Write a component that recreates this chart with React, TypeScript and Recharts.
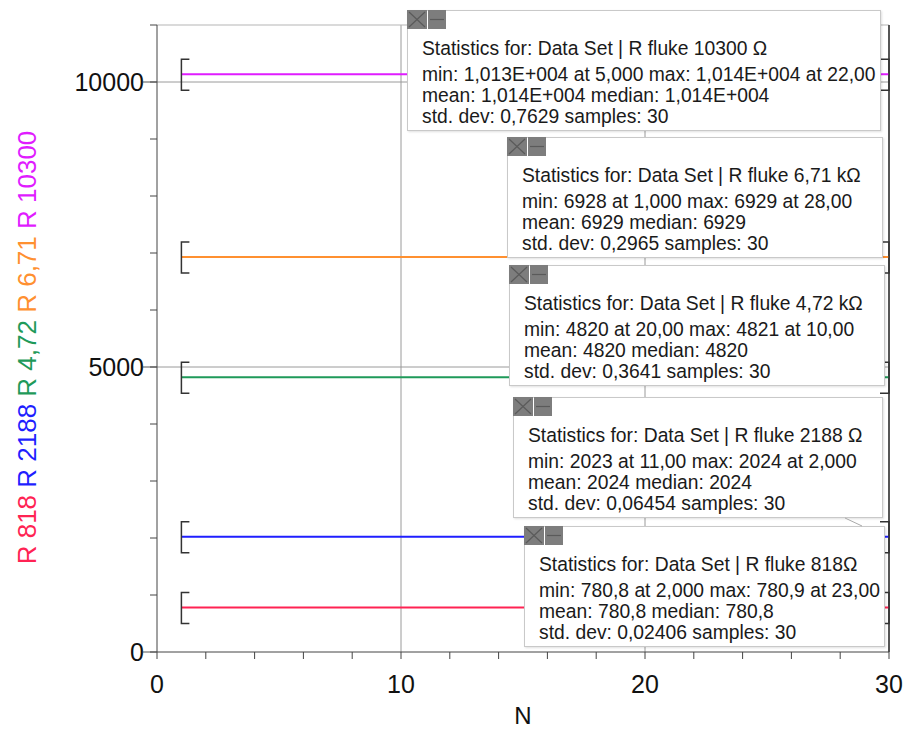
import React from 'react';
import { LineChart, Line, XAxis, YAxis, ReferenceLine } from 'recharts';

const samples = [1, 2, 3, 4, 5, 6, 7, 8, 9, 10, 11, 12, 13, 14, 15, 16, 17, 18, 19, 20, 21, 22, 23, 24, 25, 26, 27, 28, 29, 30];

const r818 = [780.82, 780.78, 780.81, 780.80, 780.83, 780.82, 780.81, 780.80, 780.84, 780.81, 780.82, 780.80, 780.83, 780.81, 780.82, 780.80, 780.81, 780.83, 780.82, 780.81, 780.80, 780.82, 780.87, 780.81, 780.82, 780.80, 780.83, 780.81, 780.82, 780.81];
const r2188 = [2023.6, 2023.7, 2023.6, 2023.55, 2023.6, 2023.55, 2023.6, 2023.6, 2023.55, 2023.6, 2023.45, 2023.6, 2023.55, 2023.6, 2023.6, 2023.55, 2023.6, 2023.6, 2023.55, 2023.6, 2023.6, 2023.55, 2023.6, 2023.6, 2023.55, 2023.6, 2023.6, 2023.55, 2023.6, 2023.6];
const r472 = [4820.2, 4820.4, 4820.1, 4820.3, 4820.2, 4820.5, 4820.3, 4820.1, 4820.4, 4820.9, 4820.2, 4820.3, 4820.4, 4820.1, 4820.3, 4820.2, 4820.4, 4820.3, 4820.2, 4819.6, 4820.3, 4820.4, 4820.2, 4820.3, 4820.1, 4820.4, 4820.2, 4820.3, 4820.4, 4820.2];
const r671 = [6928.6, 6929.0, 6928.9, 6929.1, 6928.8, 6929.0, 6929.2, 6928.9, 6929.0, 6928.8, 6929.1, 6929.0, 6928.9, 6929.2, 6929.0, 6928.8, 6929.1, 6929.0, 6928.9, 6929.0, 6929.1, 6928.8, 6929.0, 6929.2, 6928.9, 6929.0, 6929.1, 6929.4, 6929.0, 6928.9];
const r10300 = [10135.4, 10135.1, 10135.6, 10135.3, 10134.2, 10135.5, 10135.2, 10135.8, 10135.4, 10135.0, 10135.6, 10135.3, 10135.7, 10135.1, 10135.4, 10135.9, 10135.2, 10135.5, 10135.3, 10135.6, 10135.0, 10136.5, 10135.4, 10135.2, 10135.7, 10135.3, 10135.5, 10135.1, 10135.6, 10135.4];

const xTicks = [0, 2, 4, 6, 8, 10, 12, 14, 16, 18, 20, 22, 24, 26, 28, 30];
const yTicks = [0, 1000, 2000, 3000, 4000, 5000, 6000, 7000, 8000, 9000, 10000, 11000];

const series = [
  { key: 'r818', label: 'R 818', color: '#ff2353', values: r818 },
  { key: 'r2188', label: 'R 2188', color: '#1f1fff', values: r2188 },
  { key: 'r472', label: 'R 4,72', color: '#1f9a5a', values: r472 },
  { key: 'r671', label: 'R 6,71', color: '#ff9030', values: r671 },
  { key: 'r10300', label: 'R 10300', color: '#e01cff', values: r10300 },
];

const stats = [
  {
    title: 'Statistics for: Data Set | R fluke 10300 \u03a9',
    lines: ['min: 1,013E+004 at 5,000 max: 1,014E+004 at 22,00', 'mean: 1,014E+004 median: 1,014E+004', 'std. dev: 0,7629 samples: 30'],
    left: 407, top: 10, width: 474,
  },
  {
    title: 'Statistics for: Data Set | R fluke 6,71 k\u03a9',
    lines: ['min: 6928 at 1,000 max: 6929 at 28,00', 'mean: 6929 median: 6929', 'std. dev: 0,2965 samples: 30'],
    left: 507, top: 137, width: 376,
  },
  {
    title: 'Statistics for: Data Set | R fluke 4,72 k\u03a9',
    lines: ['min: 4820 at 20,00 max: 4821 at 10,00', 'mean: 4820 median: 4820', 'std. dev: 0,3641 samples: 30'],
    left: 509, top: 265, width: 376,
  },
  {
    title: 'Statistics for: Data Set | R fluke 2188 \u03a9',
    lines: ['min: 2023 at 11,00 max: 2024 at 2,000', 'mean: 2024 median: 2024', 'std. dev: 0,06454 samples: 30'],
    left: 513, top: 397, width: 370,
  },
  {
    title: 'Statistics for: Data Set | R fluke 818\u03a9',
    lines: ['min: 780,8 at 2,000 max: 780,9 at 23,00', 'mean: 780,8 median: 780,8', 'std. dev: 0,02406 samples: 30'],
    left: 524, top: 526, width: 361,
  },
];

const data = samples.map((n, i) => {
  const row: Record<string, number> = { n };
  series.forEach((s) => {
    row[s.key] = s.values[i];
  });
  return row;
});

const FONT = '"Liberation Sans", Arial, sans-serif';
const Y_TICK_MARGIN = 6;

const Bracket = (props: any) => {
  const { cx, cy, index } = props;
  if (index === 0) {
    return <path key={`b${index}`} d={`M${cx + 8},${cy - 15} H${cx} V${cy + 16} H${cx + 8}`} stroke="#333" strokeWidth={1.5} fill="none" />;
  }
  if (index === samples.length - 1) {
    return <path key={`b${index}`} d={`M${cx - 9},${cy - 15} H${cx} V${cy + 16} H${cx - 9}`} stroke="#333" strokeWidth={1.5} fill="none" />;
  }
  return <g key={`b${index}`} />;
};

const XTick = (props: any) => {
  const { x, y, payload } = props;
  if (payload.value % 10 !== 0) return <g />;
  return (
    <text x={x} y={y} dy="0.71em" textAnchor="middle" fontSize={25} fill="#111" fontFamily={FONT}>
      {payload.value}
    </text>
  );
};

const YTick = (props: any) => {
  const { x, y, payload } = props;
  if (payload.value % 5000 !== 0) return <g />;
  const ax = x + Y_TICK_MARGIN + 7;
  return (
    <g>
      <line x1={ax - 14} x2={ax} y1={y} y2={y} stroke="#555" />
      <text x={x} y={y} dy="0.355em" textAnchor="end" fontSize={25} fill="#111" fontFamily={FONT}>
        {payload.value}
      </text>
    </g>
  );
};

const YTitle = (props: any) => {
  const vb = props.viewBox || { x: 0, y: 25, width: 157, height: 627 };
  const cx = vb.x + 27;
  const cy = vb.y + vb.height / 2 + 9;
  return (
    <text
      x={cx}
      y={cy}
      transform={`rotate(-90, ${cx}, ${cy})`}
      textAnchor="middle"
      dominantBaseline="central"
      fontSize={26}
      fontFamily={FONT}
      style={{ whiteSpace: 'pre' }}
    >
      {series.map((s, i) => (
        <tspan key={s.key} fill={s.color}>
          {s.label + (i < series.length - 1 ? ' ' : '')}
        </tspan>
      ))}
    </text>
  );
};

const StatBox = ({ title, lines, left, top, width }: any) => (
  <div
    style={{
      position: 'absolute',
      left,
      top,
      width,
      height: 121,
      boxSizing: 'border-box',
      background: '#fff',
      border: '1px solid #c9c9c9',
      boxShadow: '1px 1px 2px rgba(0,0,0,0.12)',
      fontFamily: FONT,
      fontSize: 19.3,
      color: '#1a1a1a',
      paddingLeft: 14,
      paddingTop: 27,
      whiteSpace: 'nowrap',
    }}
  >
    <div style={{ position: 'absolute', left: -1, top: -1, display: 'flex', gap: 1 }}>
      <svg width={20} height={19}>
        <rect width={20} height={19} fill="#7d7d7d" />
        <path d="M2,2 L18,17 M18,2 L2,17" stroke="#5a5a5a" strokeWidth={1.2} />
      </svg>
      <svg width={18} height={19}>
        <rect width={18} height={19} fill="#7d7d7d" />
        <line x1={2} x2={16} y1={9.5} y2={9.5} stroke="#5a5a5a" strokeWidth={1.2} />
      </svg>
    </div>
    <div style={{ lineHeight: '21px', marginBottom: 5 }}>{title}</div>
    {lines.map((l: string) => (
      <div key={l} style={{ lineHeight: '21px' }}>{l}</div>
    ))}
  </div>
);

export default function App() {
  return (
    <div style={{ position: 'relative', width: 906, height: 730, background: '#fff' }}>
      <style>{'body{margin:0}'}</style>
      <LineChart width={906} height={730} data={data} margin={{ top: 25, right: 17, bottom: 0, left: 0 }}>
        <XAxis
          dataKey="n"
          type="number"
          domain={[0, 30]}
          ticks={xTicks}
          interval={0}
          height={78}
          tickSize={7}
          tickMargin={16}
          stroke="#444"
          tick={<XTick />}
          label={{ value: 'N', position: 'insideBottom', offset: 6, fontSize: 24, fill: '#111', fontFamily: FONT }}
        />
        <YAxis
          type="number"
          domain={[0, 11000]}
          ticks={yTicks}
          interval={0}
          width={157}
          tickSize={7}
          tickMargin={Y_TICK_MARGIN}
          stroke="#444"
          tick={<YTick />}
          label={<YTitle />}
        />
        <ReferenceLine y={5000} stroke="#9a9a9a" />
        <ReferenceLine y={10000} stroke="#9a9a9a" />
        <ReferenceLine x={10} stroke="#9a9a9a" />
        <ReferenceLine x={20} stroke="#9a9a9a" />
        <ReferenceLine y={11000} stroke="#b5b5b5" />
        <ReferenceLine x={30} stroke="#555" strokeWidth={2} />
        {series.map((s) => (
          <Line
            key={s.key}
            dataKey={s.key}
            stroke={s.color}
            strokeWidth={2}
            dot={<Bracket />}
            activeDot={false}
            isAnimationActive={false}
          />
        ))}
      </LineChart>
      {stats.map((b) => (
        <StatBox key={b.title} {...b} />
      ))}
      <svg style={{ position: 'absolute', left: 0, top: 0, pointerEvents: 'none' }} width={906} height={730}>
        <line x1={845} y1={518} x2={862} y2={526} stroke="#aaa" />
      </svg>
    </div>
  );
}
